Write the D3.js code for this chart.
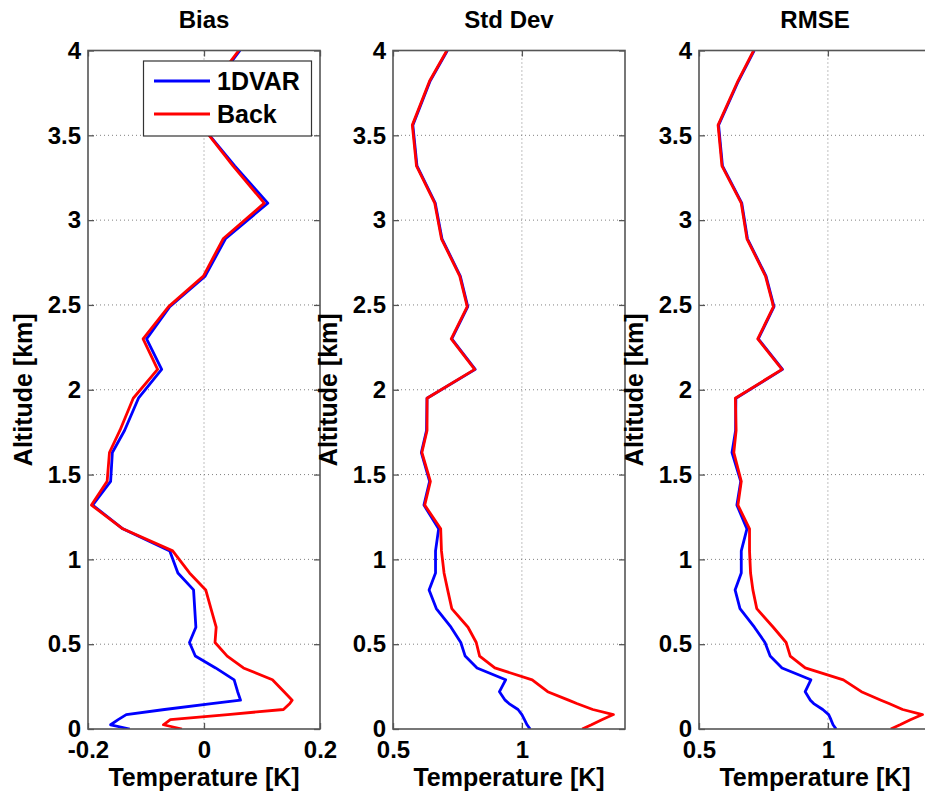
<!DOCTYPE html>
<html>
<head>
<meta charset="utf-8">
<script src="https://cdn.jsdelivr.net/npm/d3@7"></script>
<style>
  html, body { margin: 0; padding: 0; background: #fff; }
  svg { display: block; font-family: "Liberation Sans", Arial, Helvetica, sans-serif; }
  .tick text { font-weight: bold; }
</style>
</head>
<body>
<svg id="chart" width="925" height="796"></svg>
<script>
// Altitude levels of the retrieval profiles [km]
const altitude = [0, 0.025, 0.055, 0.085, 0.115, 0.15, 0.17, 0.22, 0.29, 0.36, 0.43, 0.51,
  0.6, 0.71, 0.82, 0.92, 1.05, 1.18, 1.32, 1.46, 1.63, 1.76, 1.95, 2.12, 2.3, 2.49,
  2.67, 2.89, 3.1, 3.32, 3.56, 3.82, 4.0];

// Temperature bias [K]
const bias1DVAR = [-0.128, -0.161, -0.148, -0.134, -0.068, 0.013, 0.063, 0.058, 0.052, 0.02, -0.015, -0.025,
  -0.014, -0.016, -0.018, -0.045, -0.059, -0.14, -0.192, -0.161, -0.158, -0.137, -0.113, -0.073, -0.099, -0.059,
  0.002, 0.037, 0.110, 0.053, -0.005, 0.022, 0.062];
const biasBack = [-0.038, -0.070, -0.058, 0.041, 0.137, 0.148, 0.152, 0.138, 0.118, 0.068, 0.04, 0.019,
  0.021, 0.012, 0.003, -0.025, -0.054, -0.14, -0.194, -0.167, -0.163, -0.145, -0.122, -0.080, -0.105, -0.061,
  -0.001, 0.033, 0.104, 0.050, -0.005, 0.02, 0.06];

// Temperature standard deviation [K]
const std1DVAR = [1.032, 1.02, 1.01, 1.0, 0.985, 0.95, 0.935, 0.913, 0.937, 0.826, 0.78, 0.763,
  0.725, 0.668, 0.640, 0.665, 0.665, 0.677, 0.620, 0.642, 0.610, 0.630, 0.632, 0.819, 0.728, 0.790,
  0.761, 0.690, 0.664, 0.593, 0.577, 0.644, 0.711];
const stdBack = [1.234, 1.27, 1.31, 1.355, 1.275, 1.213, 1.181, 1.10, 1.04, 0.895, 0.836, 0.823,
  0.791, 0.728, 0.712, 0.698, 0.688, 0.685, 0.623, 0.645, 0.612, 0.632, 0.632, 0.817, 0.726, 0.788,
  0.759, 0.688, 0.662, 0.591, 0.575, 0.642, 0.709];

// Temperature root mean square error [K]
const rmse1DVAR = [1.032, 1.02, 1.012, 1.003, 0.98, 0.945, 0.932, 0.912, 0.934, 0.822, 0.776, 0.756,
  0.715, 0.659, 0.640, 0.664, 0.664, 0.686, 0.647, 0.662, 0.628, 0.642, 0.643, 0.824, 0.73, 0.791,
  0.760, 0.688, 0.666, 0.591, 0.576, 0.653, 0.714];
const rmseBack = [1.244, 1.28, 1.32, 1.367, 1.29, 1.237, 1.206, 1.13, 1.06, 0.912, 0.854, 0.838,
  0.788, 0.724, 0.709, 0.70, 0.696, 0.696, 0.651, 0.664, 0.635, 0.644, 0.641, 0.822, 0.728, 0.789,
  0.758, 0.686, 0.664, 0.589, 0.574, 0.651, 0.712];

const panelTitles = ["Bias", "Std Dev", "RMSE"];
const xDomains = [[-0.2, 0.2], [0.5, 1.4], [0.5, 1.4]];
const xTickValues = [[-0.2, 0, 0.2], [0.5, 1], [0.5, 1]];
const yTickValues = [0, 0.5, 1, 1.5, 2, 2.5, 3, 3.5, 4];
const seriesNames = ["1DVAR", "Back"];
const seriesColors = ["#0000ff", "#ff0000"];
const panelSeries = [[bias1DVAR, biasBack], [std1DVAR, stdBack], [rmse1DVAR, rmseBack]];

const xLabel = "Temperature [K]";
const yLabel = "Altitude [km]";

// Layout
const panelLeft = [88, 393, 699];
const panelWidth = 232;
const plotTop = 50.5, plotBottom = 729;

const svg = d3.select("#chart");
const fmt = v => (Math.abs(v) < 1e-9 ? "0" : String(+v.toFixed(2)));

panelTitles.forEach((title, i) => {
  const x0 = panelLeft[i], x1 = x0 + panelWidth;
  const x = d3.scaleLinear().domain(xDomains[i]).range([x0, x1]);
  const y = d3.scaleLinear().domain([0, 4]).range([plotBottom, plotTop]);
  const g = svg.append("g");

  g.append("clipPath").attr("id", "clip" + i)
    .append("rect").attr("x", x0).attr("y", plotTop).attr("width", panelWidth).attr("height", plotBottom - plotTop);

  g.append("rect").attr("x", x0).attr("y", plotTop).attr("width", panelWidth)
    .attr("height", plotBottom - plotTop).attr("fill", "#fff");

  // dotted grid
  const grid = g.append("g").attr("stroke", "#808080").attr("stroke-width", 1)
    .attr("stroke-dasharray", "1,3");
  yTickValues.filter(v => v > 0 && v < 4).forEach(v => {
    grid.append("line").attr("x1", x0).attr("x2", x1).attr("y1", y(v)).attr("y2", y(v));
  });
  xTickValues[i].filter(v => v > xDomains[i][0] && v < xDomains[i][1]).forEach(v => {
    grid.append("line").attr("x1", x(v)).attr("x2", x(v)).attr("y1", plotTop).attr("y2", plotBottom);
  });

  // profiles
  const line = d3.line().x(d => x(d[1])).y(d => y(d[0]));
  const lines = g.append("g").attr("clip-path", `url(#clip${i})`);
  panelSeries[i].forEach((vals, k) => {
    lines.append("path")
      .datum(altitude.map((a, j) => [a, vals[j]]))
      .attr("d", line)
      .attr("fill", "none")
      .attr("stroke", seriesColors[k])
      .attr("stroke-width", 2.8)
      .attr("stroke-linejoin", "round");
  });

  // axes with inward ticks
  const axisStyle = sel => {
    sel.select(".domain").remove();
    sel.selectAll(".tick line").attr("stroke", "#555").attr("stroke-width", 1.3);
    sel.selectAll(".tick text").attr("fill", "#000").attr("font-size", 24);
  };
  g.append("g").attr("transform", `translate(${x0},0)`)
    .call(d3.axisLeft(y).tickValues(yTickValues).tickFormat(fmt).tickSize(-6).tickPadding(7))
    .call(axisStyle);
  g.append("g").attr("transform", `translate(${x1},0)`)
    .call(d3.axisRight(y).tickValues(yTickValues).tickFormat("").tickSize(-6))
    .call(axisStyle);
  g.append("g").attr("transform", `translate(0,${plotBottom})`)
    .call(d3.axisBottom(x).tickValues(xTickValues[i]).tickFormat(fmt).tickSize(-6).tickPadding(12))
    .call(axisStyle);
  g.append("g").attr("transform", `translate(0,${plotTop})`)
    .call(d3.axisTop(x).tickValues(xTickValues[i]).tickFormat("").tickSize(-6))
    .call(axisStyle);

  // frame
  g.append("rect").attr("x", x0).attr("y", plotTop).attr("width", panelWidth)
    .attr("height", plotBottom - plotTop).attr("fill", "none")
    .attr("stroke", "#555").attr("stroke-width", 1.6);

  // labels
  g.append("text").attr("x", (x0 + x1) / 2).attr("y", 28)
    .attr("text-anchor", "middle").attr("font-size", 24).attr("font-weight", "bold")
    .text(title);
  g.append("text").attr("x", (x0 + x1) / 2).attr("y", 786)
    .attr("text-anchor", "middle").attr("font-size", 25).attr("font-weight", "bold")
    .text(xLabel);
  g.append("text")
    .attr("transform", `translate(${x0 - 56},${(plotTop + plotBottom) / 2}) rotate(-90)`)
    .attr("text-anchor", "middle").attr("font-size", 25).attr("font-weight", "bold")
    .text(yLabel);

  // legend in the first panel
  if (i === 0) {
    const lg = g.append("g");
    lg.append("rect").attr("x", 143.5).attr("y", 61).attr("width", 168).attr("height", 75)
      .attr("fill", "#fff").attr("stroke", "#333").attr("stroke-width", 1.2);
    seriesNames.forEach((name, k) => {
      const ly = 81 + k * 33;
      lg.append("line").attr("x1", 154).attr("x2", 210).attr("y1", ly).attr("y2", ly)
        .attr("stroke", seriesColors[k]).attr("stroke-width", 2.8);
      lg.append("text").attr("x", 217).attr("y", ly + 9)
        .attr("font-size", 25).attr("font-weight", "bold").text(name);
    });
  }
});
</script>
</body>
</html>
